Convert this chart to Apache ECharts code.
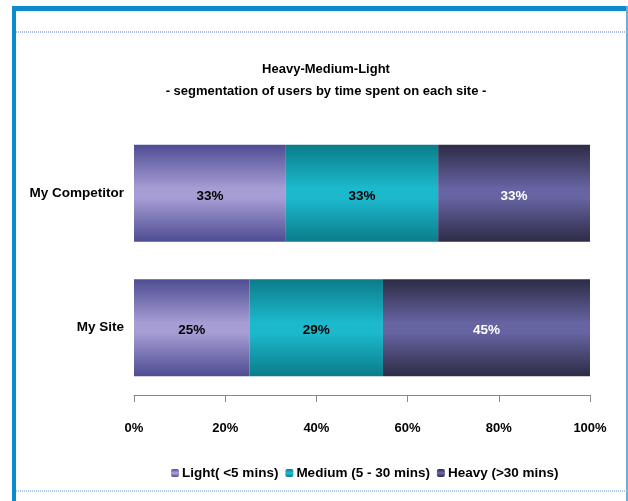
<!DOCTYPE html>
<html>
<head>
<meta charset="utf-8">
<script src="https://cdn.jsdelivr.net/npm/echarts@6/dist/echarts.min.js"></script>
<style>
html,body{margin:0;padding:0;background:#fff;}
#main{width:628px;height:501px;}
</style>
</head>
<body>
<div id="main"></div>
<script>
const categories = ['My Site', 'My Competitor'];
const seriesNames = ['Light( <5 mins)', 'Medium (5 - 30 mins)', 'Heavy (>30 mins)'];
const lightValues = [25.3, 33.3];
const mediumValues = [29.3, 33.4];
const heavyValues = [45.4, 33.3];
const xTicks = [0, 20, 40, 60, 80, 100];

function grad(edge, mid) {
  return new echarts.graphic.LinearGradient(0, 0, 0, 1, [
    {offset: 0, color: edge},
    {offset: 0.45, color: mid},
    {offset: 0.55, color: mid},
    {offset: 1, color: edge}
  ]);
}
const font = '"Liberation Sans", Arial, sans-serif';
const colors = [grad('#4e4c92', '#a69dd4'), grad('#0b7c8a', '#1cb9cd'), grad('#2d2b45', '#6664a2')];
const labelColors = ['#000', '#000', '#fff'];
const dataSets = [lightValues, mediumValues, heavyValues];

const chart = echarts.init(document.getElementById('main'), null, {renderer: 'canvas'});
chart.setOption({
  animation: false,
  textStyle: {fontFamily: font},
  title: {
    text: 'Heavy-Medium-Light\n- segmentation of users by time spent on each site -',
    left: 321, top: 53, textAlign: 'center',
    textStyle: {fontFamily: font, fontSize: 13, fontWeight: 'bold', color: '#000', lineHeight: 22}
  },
  legend: {
    data: seriesNames,
    left: 166, top: 461,
    itemWidth: 8, itemHeight: 8, itemGap: 7,
    textStyle: {fontFamily: font, fontSize: 13.5, fontWeight: 'bold', color: '#000', padding: [0, 0, 0, -2]}
  },
  grid: {left: 134, right: 38, top: 126, bottom: 106},
  xAxis: {
    type: 'value', min: 0, max: 100, interval: 20,
    axisLine: {show: true, lineStyle: {color: '#888', width: 1}},
    axisTick: {show: true, length: 7, lineStyle: {color: '#888'}},
    splitLine: {show: false},
    axisLabel: {formatter: v => xTicks.includes(v) ? v + '%' : '', margin: 27, fontFamily: font, fontSize: 13, fontWeight: 'bold', color: '#000'}
  },
  yAxis: {
    type: 'category', data: categories,
    axisLine: {show: false}, axisTick: {show: false},
    axisLabel: {margin: 10, fontFamily: font, fontSize: 13.5, fontWeight: 'bold', color: '#000', padding: [6, 0, 0, 0]}
  },
  series: seriesNames.map((name, i) => ({
    name, type: 'bar', stack: 'total', data: dataSets[i],
    barWidth: 97,
    itemStyle: {color: colors[i]},
    label: {
      show: true, position: 'inside', offset: [0, 3],
      formatter: p => Math.round(p.value) + '%',
      fontFamily: font, fontSize: 13.5, fontWeight: 'bold', color: labelColors[i]
    }
  })),
  graphic: [
    {type: 'rect', shape: {x: 12, y: 6, width: 616, height: 5}, style: {fill: '#0a8bcb'}, silent: true},
    {type: 'rect', shape: {x: 12, y: 6, width: 4, height: 495}, style: {fill: '#0a8bcb'}, silent: true},
    {type: 'rect', shape: {x: 626, y: 6, width: 2, height: 495}, style: {fill: '#6aaede'}, silent: true},
    {type: 'line', shape: {x1: 16, y1: 32, x2: 627, y2: 32}, style: {stroke: '#8fa8de', lineWidth: 1.5, lineDash: [1, 1]}, silent: true},
    {type: 'line', shape: {x1: 16, y1: 491, x2: 627, y2: 491}, style: {stroke: '#8fb8de', lineWidth: 1.5, lineDash: [1, 1]}, silent: true}
  ]
});
</script>
</body>
</html>
